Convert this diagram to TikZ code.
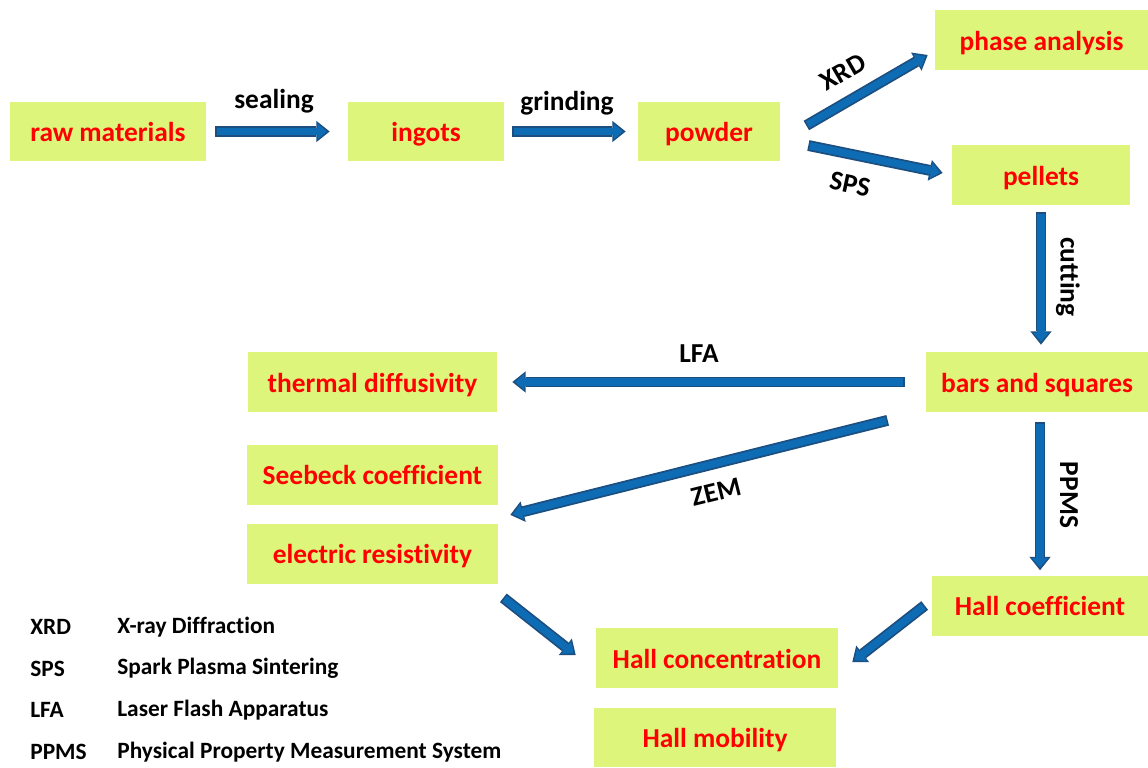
\documentclass[tikz,border=0pt]{standalone}
\usepackage{fontspec}
\setmainfont{Carlito}[Ligatures=NoCommon]
\usetikzlibrary{arrows.meta}

\definecolor{boxgreen}{RGB}{220,245,122}
\definecolor{arrowblue}{RGB}{14,108,180}
\definecolor{arrowedge}{RGB}{28,78,128}

\begin{document}
\begin{tikzpicture}[x=0.02cm, y=-0.02cm,
    box/.style={fill=boxgreen, text=red, minimum height=1.2cm, inner sep=0pt,
        text height=13.4pt, text depth=2pt,
        font=\fontsize{15.6}{18}\selectfont\bfseries},
    lbl/.style={font=\fontsize{15.6}{18}\selectfont\bfseries, inner sep=0pt},
    legend/.style={font=\fontsize{13.3}{16}\selectfont\bfseries, inner sep=0pt, anchor=west},
    flow/.style 2 args={
        preaction={draw=arrowedge, line width=6.2pt, shorten <=#1, shorten >=#2,
            -{Triangle[length=7.5pt,width=12pt,line width=0pt]}},
        draw=arrowblue, line width=4.2pt, shorten <=#1+0.9pt, shorten >=#2+1.6pt,
        -{Triangle[length=5.2pt,width=9pt,line width=0pt]}}]
    \useasboundingbox (0,0) rectangle (1148,767);
    \clip (0,0) rectangle (1148,767);

    % process chain
    \node[box, minimum width=3.92cm] (raw) at (108,131.5) {raw materials};
    \node[box, minimum width=3.12cm] (ingots) at (426,131.5) {ingots};
    \node[box, minimum width=2.84cm] (powder) at (709,131.5) {powder};
    \node[box, minimum width=4.26cm] (phase) at (1041.5,40) {phase analysis};
    \node[box, minimum width=3.56cm] (pellets) at (1041,175) {pellets};
    \node[box, minimum width=4.44cm] (bars) at (1037,382) {bars and squares};

    % measured quantities
    \node[box, minimum width=4.98cm] (thermal) at (372.5,382) {thermal diffusivity};
    \node[box, minimum width=5.02cm] (seebeck) at (372.5,474.5) {Seebeck coefficient};
    \node[box, minimum width=5.02cm] (elres) at (372.5,553.5) {electric resistivity};
    \node[box, minimum width=4.32cm] (hallc) at (1040,605.5) {Hall coefficient};
    \node[box, minimum width=4.84cm] (conc) at (717,658) {Hall concentration};
    \node[box, minimum width=4.84cm, minimum height=1.18cm] (mob) at (715,737.5) {Hall mobility};

    % arrows
    \draw[flow={0.18cm}{0.36cm}] (raw) -- (ingots);
    \draw[flow={0.16cm}{0.24cm}] (ingots) -- (powder);
    \draw[flow={0pt}{0pt}] ([shift={(26,-6)}]powder.east) -- ([shift={(-7,15)}]phase.west);
    \draw[flow={0pt}{0pt}] ([shift={(28,14)}]powder.east) -- ([shift={(-9,-2)}]pellets.west);
    \draw[flow={0.14cm}{0.14cm}] (pellets.south) -- (pellets.south |- bars.north);
    \draw[flow={0.42cm}{0.3cm}] (bars) -- (thermal);
    \draw[flow={0pt}{0pt}] ([shift={(-38,8)}]bars.south west) -- ([shift={(12,10)}]seebeck.south east);
    \draw[flow={0.2cm}{0.1cm}] (hallc.north |- bars.south) -- (hallc.north);
    \draw[flow={0pt}{0pt}] ([shift={(5,14)}]elres.south east) -- ([shift={(-20,-3)}]conc.west);
    \draw[flow={0pt}{0pt}] ([shift={(-7,0)}]hallc.west) -- ([shift={(14,4)}]conc.east);

    % arrow labels
    \node[lbl] (sealing) at (274,101) {sealing};
    \node[lbl] (grinding) at (567,103) {grinding};
    \node[lbl, rotate=30] (xrd) at (843,72) {XRD};
    \node[lbl, rotate=-12] (sps) at (850,184) {SPS};
    \node[lbl, rotate=-90] (cutting) at (1068,277) {cutting};
    \node[lbl] (lfa) at (699,354) {LFA};
    \node[lbl, rotate=14] (zem) at (716,492) {ZEM};
    \node[lbl, rotate=-90] (ppms) at (1069,495) {PPMS};

    % abbreviations
    \foreach \abbr/\full [count=\i] in {XRD/X-ray Diffraction, SPS/Spark Plasma Sintering,
        LFA/Laser Flash Apparatus, PPMS/Physical Property Measurement System}{
        \node[legend] (abbr\i) at (30,585.3+41.67*\i) {\abbr};
        \node[legend] (full\i) at (117,585.3+41.67*\i) {\full};
    }
\end{tikzpicture}
\end{document}
